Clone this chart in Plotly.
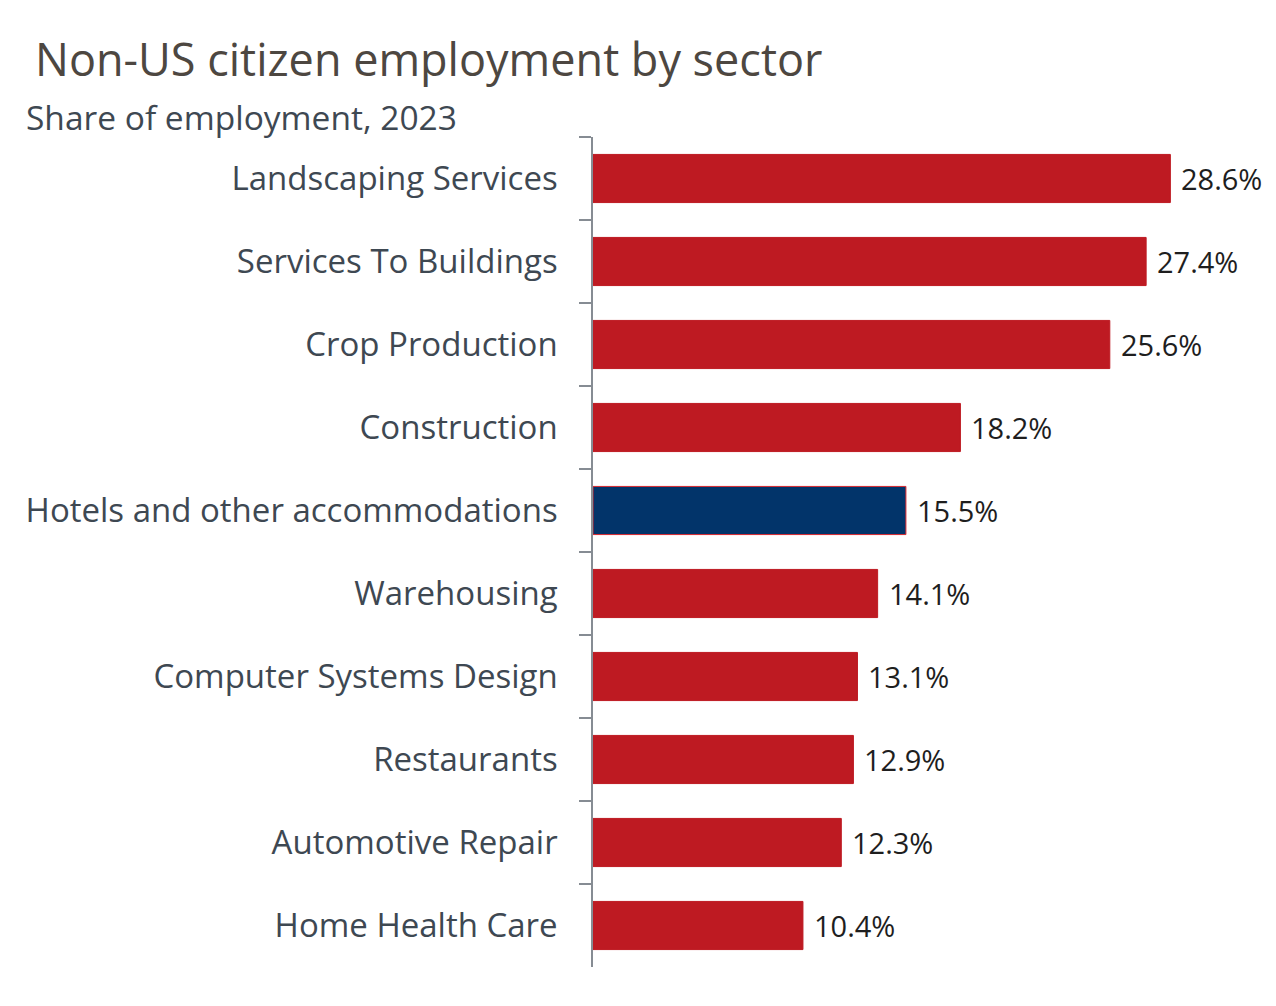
import plotly.graph_objects as go

# Share of employment held by non-US citizens, by sector (2023)
sectors = [
    "Landscaping Services",
    "Services To Buildings",
    "Crop Production",
    "Construction",
    "Hotels and other accommodations",
    "Warehousing",
    "Computer Systems Design",
    "Restaurants",
    "Automotive Repair",
    "Home Health Care",
]
shares = [28.6, 27.4, 25.6, 18.2, 15.5, 14.1, 13.1, 12.9, 12.3, 10.4]
highlight = "Hotels and other accommodations"

RED = "#BE1A22"
NAVY = "#02346A"

fill = [NAVY if s == highlight else RED for s in sectors]
outline = ["#D8282F" if s == highlight else RED for s in sectors]

W, H = 1276, 1006
L, T, B, R = 593, 137, 39, 37
plot_w = W - L - R
x_max = 32

fig = go.Figure(
    go.Bar(
        x=shares,
        y=sectors,
        orientation="h",
        width=0.58,
        marker=dict(color=fill, line=dict(color=outline, width=1)),
        hoverinfo="skip",
    )
)

# value labels to the right of each bar
for s, v in zip(sectors, shares):
    fig.add_annotation(
        x=v, y=s, xref="x", yref="y",
        text=f"{v:.1f}%",
        showarrow=False, xanchor="left", yanchor="middle", xshift=9,
        font=dict(family="Open Sans", size=29, color="#1E1E1E"),
    )

def px_to_paper(px):
    return (px - L) / plot_w

fig.add_annotation(
    x=px_to_paper(33), y=1, xref="paper", yref="paper",
    yshift=137 - 58, text="Non-US citizen employment by sector",
    showarrow=False, xanchor="left", yanchor="middle",
    font=dict(family="Open Sans", size=45, color="#4D4741"),
)
fig.add_annotation(
    x=px_to_paper(24), y=1, xref="paper", yref="paper",
    yshift=137 - 117, text="Share of employment, 2023",
    showarrow=False, xanchor="left", yanchor="middle",
    font=dict(family="Open Sans", size=33.5, color="#3E4852"),
)

fig.update_layout(
    width=W, height=H,
    margin=dict(l=L, r=R, t=T, b=B, autoexpand=False),
    paper_bgcolor="white", plot_bgcolor="white",
    showlegend=False,
    bargap=0.42,
    xaxis=dict(range=[0, x_max], visible=False, fixedrange=True),
    yaxis=dict(
        autorange="reversed",
        showline=True, linecolor="#868C93", linewidth=1.5,
        ticks="outside", tickson="boundaries", ticklen=12,
        tickcolor="#868C93", tickwidth=1.5,
        ticklabelstandoff=27,
        tickfont=dict(family="Open Sans", size=33, color="#3E4852"),
        showgrid=False, fixedrange=True,
    ),
)

fig.write_html("out.html")
